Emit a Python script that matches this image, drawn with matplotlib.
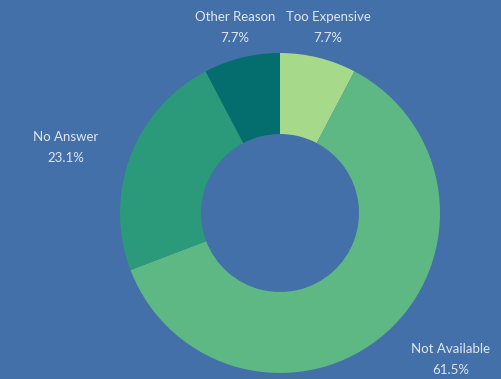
import matplotlib
matplotlib.use('Agg')
import matplotlib.pyplot as plt

# Dados do gráfico (em sentido horário a partir do topo)
categorias = ["Too Expensive", "Not Available", "No Answer", "Other Reason"]
percentuais = [7.7, 61.5, 23.1, 7.7]
cores = ["#a7d98a", "#5eb884", "#2a9a7a", "#046d6d"]

fundo = "#4470aa"
cor_texto = "#dfe7f1"

W, H = 501, 379
fig = plt.figure(figsize=(W / 100, H / 100), dpi=100, facecolor=fundo)
ax = fig.add_axes([0, 0, 1, 1])
ax.set_facecolor(fundo)

# Rosca: centro e raio em pixels da figura
cx, cy, raio = 280, H - 213, 160
ax.pie(
    percentuais,
    colors=cores,
    startangle=90,
    counterclock=False,
    center=(cx, cy),
    radius=raio,
    wedgeprops=dict(width=raio - 79, linewidth=0),
)
ax.set_xlim(0, W)
ax.set_ylim(0, H)
ax.set_aspect('equal')
ax.axis('off')

# Posições dos rótulos (x, y em pixels a partir do topo)
pos_rotulos = {
    "Too Expensive": (328, 17),
    "Not Available": (451, 349),
    "No Answer": (66, 137),
    "Other Reason": (235, 17),
}
for nome, pct in zip(categorias, percentuais):
    x, y = pos_rotulos[nome]
    ax.text(x, H - y, nome, ha='center', va='center', fontsize=9.5,
            color=cor_texto, family='Lato')
    ax.text(x, H - y - 21, f"{pct:.1f}%", ha='center', va='center', fontsize=9.5,
            color=cor_texto, family='Lato')

fig.savefig("out.png", dpi=100, facecolor=fundo)
